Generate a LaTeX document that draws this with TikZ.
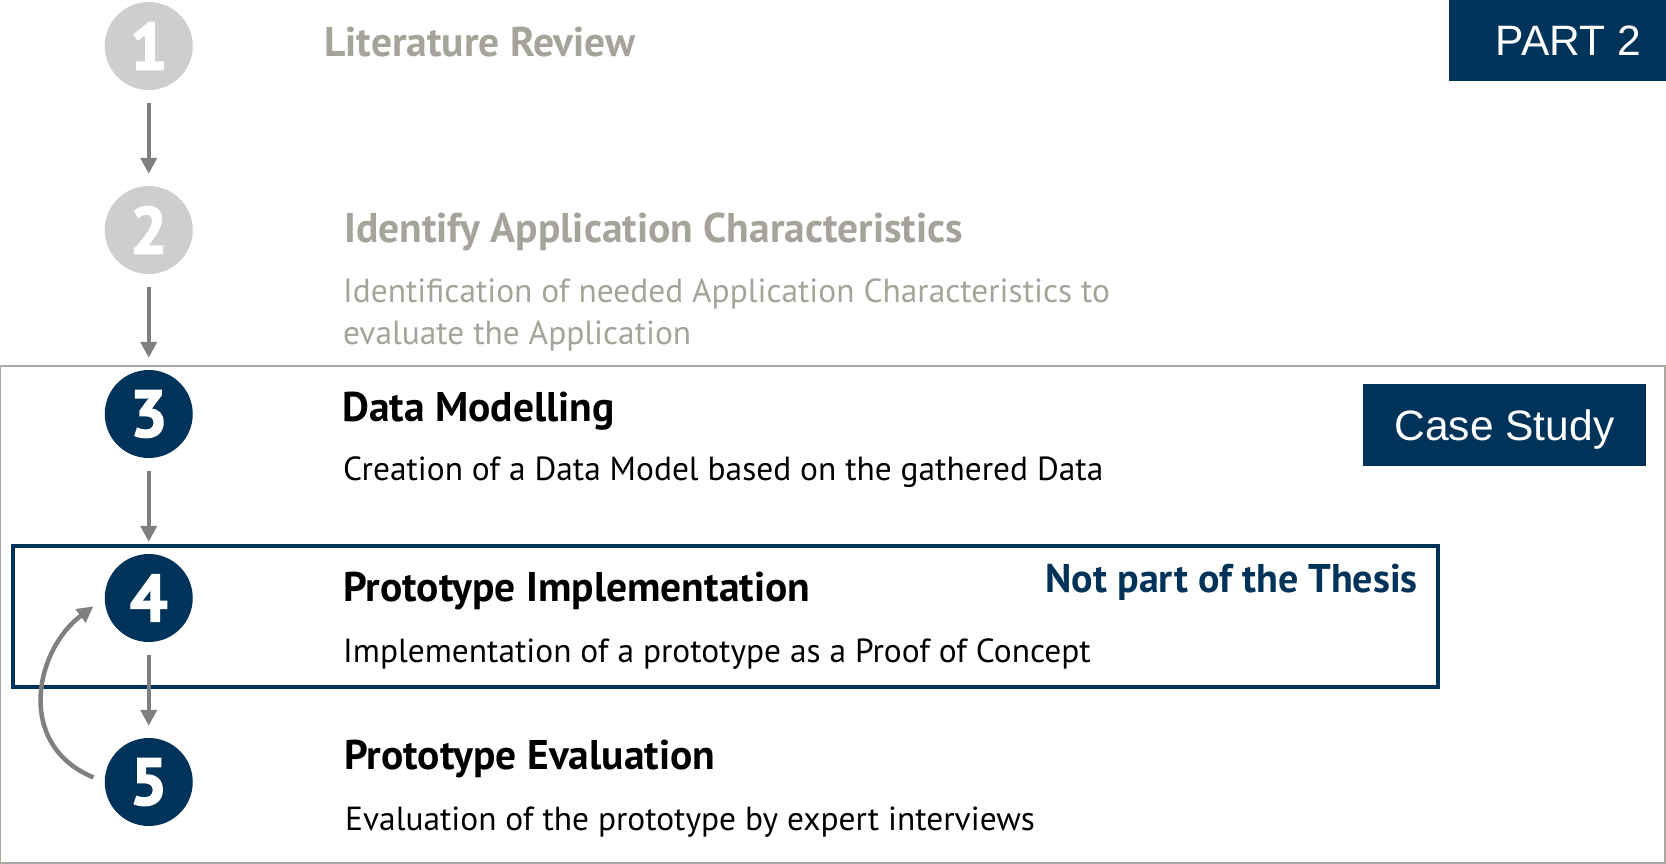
\documentclass[tikz,border=0pt]{standalone}
\usepackage{fontspec}
\setmainfont{PT Sans}
\newfontfamily\tagfont{Liberation Sans}
\newfontfamily\numfont[BoldFeatures={FakeBold=2.5}]{PT Sans}
\usepackage{tikz}
\usetikzlibrary{positioning}
\usetikzlibrary{arrows.meta}
\definecolor{thesisblue}{RGB}{0,51,89}
\definecolor{fadegray}{RGB}{166,163,154}
\definecolor{circlegray}{RGB}{206,206,206}
\definecolor{flowgray}{RGB}{128,128,128}
\definecolor{framegray}{RGB}{170,168,160}

\begin{document}
\begin{tikzpicture}[x=1pt,y=1pt,
		numcircle/.style={
			circle,
			fill=thesisblue,
			minimum size=88pt,
			inner sep=0pt,
			text=white,
			font=\numfont\fontsize{66}{66}\selectfont\bfseries,
		},
		numfaded/.style={numcircle, fill=circlegray},
		title/.style={anchor=base west, inner sep=0pt, font=\fontsize{41.5}{48}\selectfont\bfseries},
		desc/.style={anchor=base west, inner sep=0pt, align=left, font=\fontsize{33.4}{42}\selectfont},
		flow/.style={draw=flowgray, line width=4.5pt, -{Triangle[length=16pt,width=16pt]}, shorten <=13pt, shorten >=12pt},
		tag/.style={fill=thesisblue, text=white, inner sep=0pt, text depth=0pt, font=\tagfont\fontsize{42.5}{42.5}\selectfont},
	]
	\useasboundingbox (0,0) rectangle (1666,-864);
	
	% frames
	\draw[framegray, line width=2pt] (0,-366) rectangle (1665,-863);
	\draw[thesisblue, line width=4pt] (13,-546) rectangle (1438,-687);
	
	% step circles
	\node[numfaded] (c1) at (148.75,-46) {1};
	\node[numfaded] (c2) at (148.75,-230) {2};
	\node[numcircle] (c3) at (148.75,-414) {3};
	\node[numcircle] (c4) at (148.75,-598) {4};
	\node[numcircle] (c5) at (148.75,-782) {5};
	
	\draw[flow] (c1) -- (c2);
	\draw[flow] (c2) -- (c3);
	\draw[flow] (c3) -- (c4);
	\draw[flow] (c4) -- (c5);
	\draw[flow, shorten <=12pt, shorten >=14pt] (c5.west) .. controls (15,-745) and (35,-650) .. (c4.west);
	
	% texts
	\node[title, text=fadegray] (t1) at (324,-57) {Literature Review};
	\node[title, text=fadegray] (t2) at (344,-242) {Identify Application Characteristics};
	\node[desc, text=fadegray] (d2) at (343,-344) {Identification of needed Application Characteristics to\\evaluate the Application};
	\node[title] (t3) at (342,-421) {Data Modelling};
	\node[desc] (d3) at (343,-480) {Creation of a Data Model based on the gathered Data};
	\node[title] (t4) at (343,-601) {Prototype Implementation};
	\node[desc] (d4) at (343,-662) {Implementation of a prototype as a Proof of Concept};
	\node[title] (t5) at (344,-769) {Prototype Evaluation};
	\node[desc] (d5) at (345,-830) {Evaluation of the prototype by expert interviews};
	\node[title, text=thesisblue, font=\fontsize{40}{48}\selectfont\bfseries, anchor=base east] (nt) at (1418,-592) {Not part of the Thesis};
	
	% tags
	\node[tag, minimum width=217pt, minimum height=81pt, anchor=north east] (part) at (1666,0) {\hspace*{22pt}PART 2};
	\node[tag, minimum width=283pt, minimum height=82pt] (cs) at (1504.5,-425) {Case Study};
\end{tikzpicture}
\end{document}
